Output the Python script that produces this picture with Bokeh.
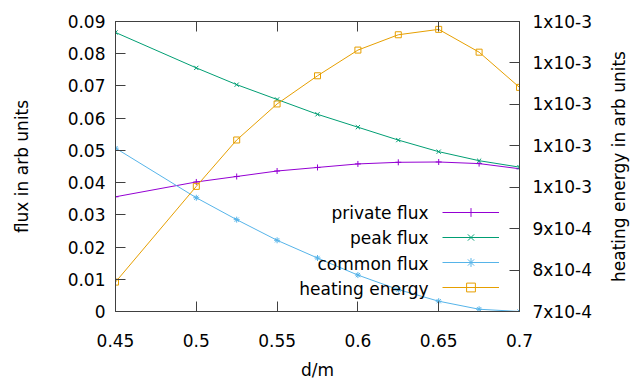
import math
from bokeh.plotting import figure
from bokeh.models import (Range1d, LinearAxis, FixedTicker, Legend, LegendItem, Label)
from bokeh.core.properties import value
from bokeh.embed import file_html
from bokeh.resources import INLINE

# ---- data ----
d = [0.45, 0.5, 0.525, 0.55, 0.575, 0.6, 0.625, 0.65, 0.675, 0.7]
private_flux = [0.0356, 0.0402, 0.0419, 0.0436, 0.0447, 0.0458, 0.0463, 0.0464, 0.0459, 0.0443]
peak_flux = [0.0866, 0.0756, 0.0704, 0.0658, 0.0612, 0.0572, 0.0532, 0.0496, 0.0468, 0.0448]
common_flux = [0.0507, 0.0353, 0.0285, 0.0221, 0.0166, 0.0113, 0.0068, 0.0032, 0.0007, 0.0000]
heating_energy = [7.71e-4, 1.002e-3, 1.114e-3, 1.201e-3, 1.269e-3, 1.331e-3, 1.368e-3, 1.381e-3, 1.326e-3, 1.241e-3]
series_names = ["private flux", "peak flux", "common flux", "heating energy"]

x_ticks = [0.45, 0.5, 0.55, 0.6, 0.65, 0.7]
x_tick_labels = ["0.45", "0.5", "0.55", "0.6", "0.65", "0.7"]
y_ticks = [0.0, 0.01, 0.02, 0.03, 0.04, 0.05, 0.06, 0.07, 0.08, 0.09]
y_tick_labels = ["0", "0.01", "0.02", "0.03", "0.04", "0.05", "0.06", "0.07", "0.08", "0.09"]
y2_ticks = [0.0007, 0.0008, 0.0009, 0.001, 0.0011, 0.0012, 0.0013, 0.0014]
y2_tick_labels = ["7x10-4", "8x10-4", "9x10-4", "1x10-3", "1x10-3", "1x10-3", "1x10-3", "1x10-3"]
y2_title = "heating energy in arb units"

FONT = "DejaVu Sans"
FS = "17px"
AX = "#404040"

W, H = 635, 383
BL, BR, BT, BB = 115, 116, 21, 72
FW, FH = W - BL - BR, H - BT - BB

p = figure(width=W, height=H, output_backend="svg", toolbar_location=None,
           x_range=Range1d(0.45, 0.7), y_range=Range1d(0.0, 0.09),
           min_border_left=BL, min_border_right=BR, min_border_top=BT, min_border_bottom=BB)
p.extra_y_ranges = {"y2": Range1d(0.0007, 0.0014)}
p.grid.visible = False
p.outline_line_color = AX
p.outline_line_width = 1
p.background_fill_color = "white"
p.border_fill_color = "white"

def style_axis(ax, ticks, labels, standoff):
    ax.ticker = FixedTicker(ticks=ticks)
    ax.major_label_overrides = dict(zip(ticks, labels))
    ax.major_tick_in = 10
    ax.major_tick_out = 0
    ax.minor_tick_line_color = None
    ax.axis_line_color = AX
    ax.major_tick_line_color = AX
    ax.major_label_text_font = FONT
    ax.major_label_text_font_size = FS
    ax.major_label_text_color = "black"
    ax.major_label_standoff = standoff
    ax.axis_label_text_font = FONT
    ax.axis_label_text_font_size = FS
    ax.axis_label_text_font_style = "normal"
    ax.axis_label_text_color = "black"

style_axis(p.xaxis[0], x_ticks, x_tick_labels, 22)
p.xaxis[0].axis_label = "d/m"
p.xaxis[0].axis_label_standoff = 10
style_axis(p.yaxis[0], y_ticks, y_tick_labels, 10)
p.yaxis[0].axis_label = "flux in arb units"
p.yaxis[0].axis_label_standoff = 33

y2 = LinearAxis(y_range_name="y2")
style_axis(y2, y2_ticks, y2_tick_labels, 13)
p.add_layout(y2, "right")

top = LinearAxis()
style_axis(top, x_ticks, ["" for _ in x_ticks], 0)
top.major_label_text_font_size = "0px"
p.add_layout(top, "above")

# right-axis title, reading bottom to top as in the reference
p.add_layout(Label(x=24, y=FH / 2, x_units="screen", y_units="screen",
                   text=y2_title, angle=math.pi / 2, text_align="center",
                   text_baseline="middle", text_font=FONT, text_font_size=FS,
                   text_color="black"), "right")

colors = ["#9400D3", "#009E73", "#56B4E9", "#E69F00"]
markers = ["cross", "x", "asterisk", "square"]
series = [private_flux, peak_flux, common_flux, heating_energy]
ranges = ["default", "default", "default", "y2"]

items = []
for name, ys, c, m, rn in zip(series_names, series, colors, markers, ranges):
    lr = p.line(d, ys, line_color=c, line_width=1, y_range_name=rn)
    sr = p.scatter(d, ys, marker=m, size=6, line_color=c, fill_color=None,
                   line_width=1, y_range_name=rn)
    items.append(LegendItem(label=value(" "), renderers=[lr, sr]))

leg = Legend(items=items, location=(327, 13), glyph_width=57, glyph_height=22,
             label_height=22, label_width=0, label_standoff=0, spacing=3, padding=0,
             margin=0, border_line_alpha=0, background_fill_alpha=0,
             label_text_font_size="1px")
p.add_layout(leg, "center")

row_y = [99, 74, 48, 23]
for name, yy in zip(series_names, row_y):
    p.add_layout(Label(x=313, y=yy, x_units="screen", y_units="screen", text=name,
                       text_align="right", text_baseline="middle",
                       text_font=FONT, text_font_size=FS, text_color="black"))

open("out.html", "w").write(file_html(p, INLINE))
